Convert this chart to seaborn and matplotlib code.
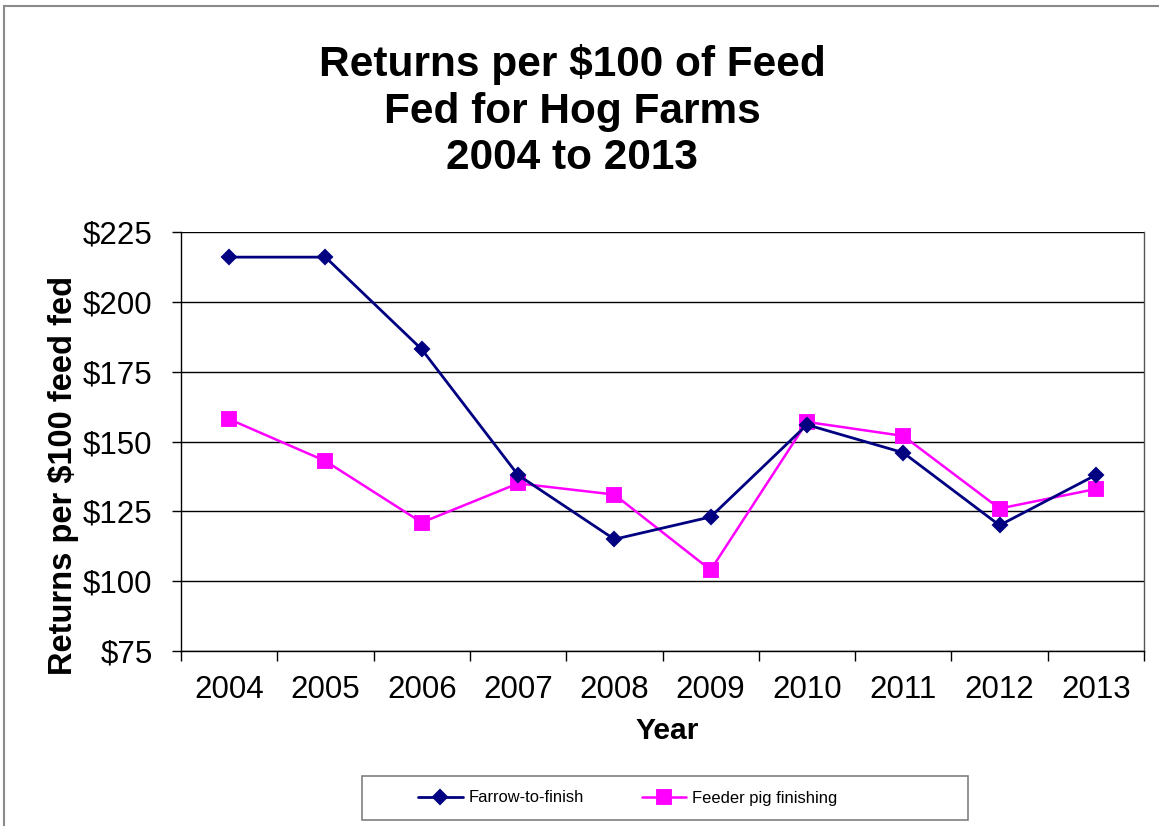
import matplotlib
matplotlib.use("Agg")
import matplotlib.pyplot as plt
from matplotlib.patches import Rectangle
from matplotlib.ticker import FixedLocator, FuncFormatter
import seaborn as sns
import pandas as pd

years = ["2004", "2005", "2006", "2007", "2008", "2009", "2010", "2011", "2012", "2013"]
farrow_to_finish = [216, 216, 183, 138, 115, 123, 156, 146, 120, 138]
feeder_pig_finishing = [158, 143, 121, 135, 131, 104, 157, 152, 126, 133]
y_ticks = [75, 100, 125, 150, 175, 200, 225]

df_farrow = pd.DataFrame({"Year": years, "Value": farrow_to_finish})
df_feeder = pd.DataFrame({"Year": years, "Value": feeder_pig_finishing})

sns.set_style("white")
plt.rcParams["font.family"] = ["Liberation Sans", "DejaVu Sans"]
plt.rcParams["text.color"] = "black"
plt.rcParams["axes.labelcolor"] = "black"
plt.rcParams["xtick.color"] = "black"
plt.rcParams["ytick.color"] = "black"

W, H = 1159, 826
fig = plt.figure(figsize=(W / 100, H / 100), dpi=100)
ax = fig.add_axes([181 / W, 1 - 651 / H, (1144 - 181) / W, (651 - 232) / H])

sns.pointplot(data=df_farrow, x="Year", y="Value", order=years, color="#000080",
              markers="D", linestyles="-", errorbar=None, ax=ax,
              label="Farrow-to-finish", markersize=7.6, linewidth=2.0, zorder=4)
sns.pointplot(data=df_feeder, x="Year", y="Value", order=years, color="#FF00FF",
              markers="s", linestyles="-", errorbar=None, ax=ax,
              label="Feeder pig finishing", markersize=10.5, linewidth=1.8, zorder=3)

ax.set_xlim(-0.5, len(years) - 0.5)
ax.set_ylim(75, 225)
ax.set_yticks(y_ticks)
ax.yaxis.set_major_formatter(FuncFormatter(lambda v, p: f"${int(v)}"))
ax.grid(axis="y", color="black", linewidth=1.0)
ax.grid(axis="x", visible=False)
ax.set_axisbelow(True)

# x ticks at category boundaries
ax.xaxis.set_minor_locator(FixedLocator([i - 0.5 for i in range(len(years) + 1)]))
ax.tick_params(axis="x", which="major", length=0, pad=17, labelsize=22.5, colors="black")
ax.tick_params(axis="x", which="minor", length=7, width=1, color="black", direction="out", bottom=True)
ax.tick_params(axis="y", which="major", length=6.5, width=1, color="black", direction="out",
               left=True, pad=14, labelsize=22.5, labelcolor="black")

for s in ["left", "bottom"]:
    ax.spines[s].set_color("black")
    ax.spines[s].set_linewidth(1.0)
ax.spines["top"].set_visible(False)
ax.spines["right"].set_color("#555555")
ax.spines["right"].set_linewidth(1.0)

ax.set_xlabel("Year", fontsize=21.6, fontweight="bold", color="black")
ax.xaxis.label.set(va="center", ha="center")
ax.xaxis.set_label_coords((667 - 181) / (1144 - 181), (651 - 731) / (651 - 232))
ax.set_ylabel("Returns per $100 feed fed", fontsize=23.5, fontweight="bold", color="black")
ax.yaxis.label.set(va="center", ha="center", rotation_mode="default")
ax.yaxis.set_label_coords((64 - 181) / (1144 - 181), (651 - 475) / (651 - 232))

fig.suptitle("Returns per $100 of Feed\nFed for Hog Farms\n2004 to 2013",
             x=572 / W, y=1 - 111 / H, va="center", ha="center", color="black",
             fontsize=30.5, fontweight="bold", linespacing=1.22)

# legend
handles, labels = ax.get_legend_handles_labels()
if ax.get_legend() is not None:
    ax.get_legend().remove()
leg = fig.legend(handles, labels, loc="center left",
                 bbox_to_anchor=(418 / W, 1 - 798 / H), ncol=2, frameon=False,
                 fontsize=11.9, handlelength=2.7, handletextpad=0.35,
                 columnspacing=3.5, borderaxespad=0, borderpad=0)
fig.patches.append(Rectangle((362 / W, 1 - 820 / H), (968 - 362) / W, (820 - 776) / H,
                             transform=fig.transFigure, fill=False,
                             edgecolor="#808080", linewidth=1.2))
# figure border
fig.patches.append(Rectangle((4 / W, -0.1), 1.2, (1 - 6 / H) + 0.1,
                             transform=fig.transFigure, fill=False,
                             edgecolor="#8a8a8a", linewidth=1.5))

fig.savefig("out.png", dpi=100)
